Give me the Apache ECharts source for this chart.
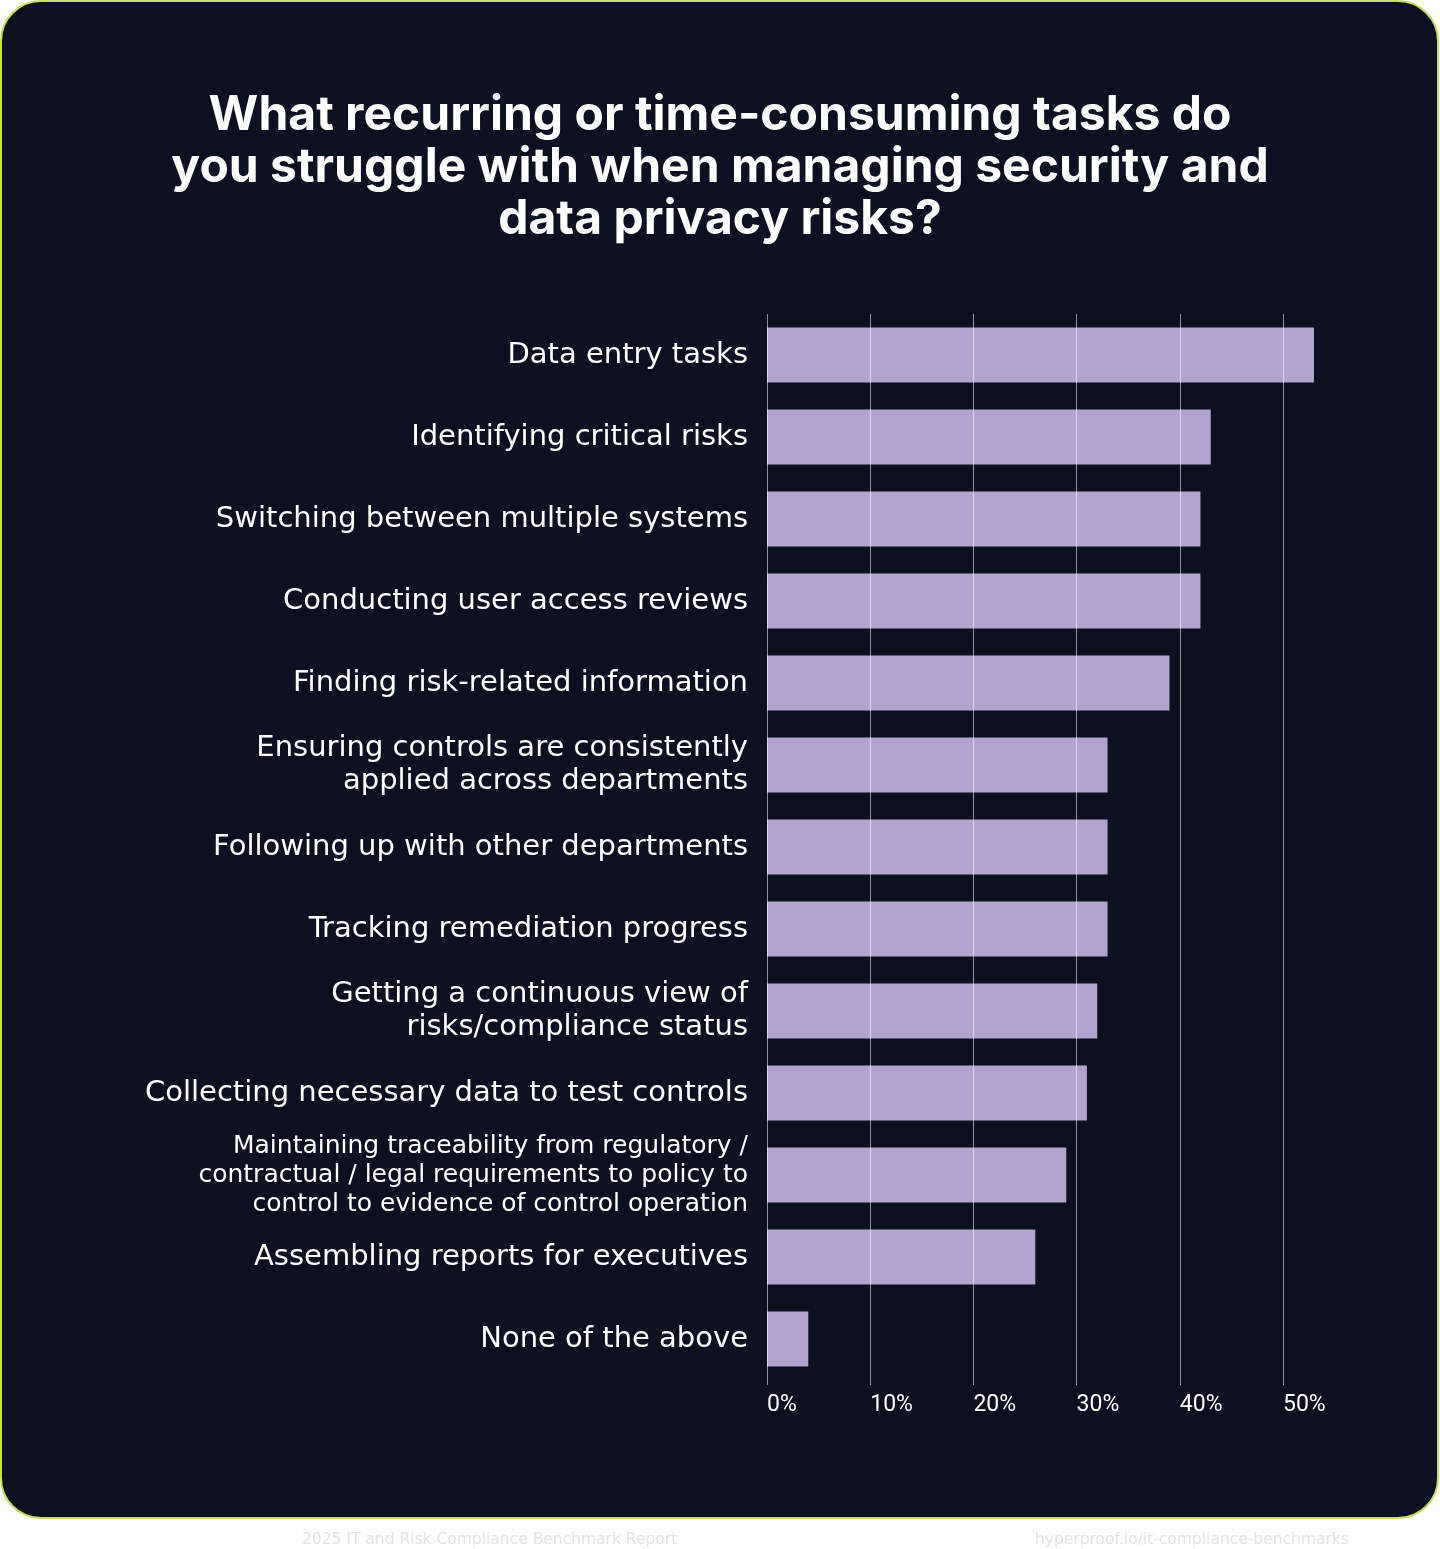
<!DOCTYPE html>
<html>
<head>
<meta charset="utf-8">
<script src="https://cdn.jsdelivr.net/npm/echarts@6/dist/echarts.min.js"></script>
<style>
html,body{margin:0;padding:0;background:#ffffff;}
#chart{width:1440px;height:1549px;}
</style>
</head>
<body>
<div id="chart"></div>
<script>
const categories = [
  'Data entry tasks',
  'Identifying critical risks',
  'Switching between multiple systems',
  'Conducting user access reviews',
  'Finding risk-related information',
  'Ensuring controls are consistently\napplied across departments',
  'Following up with other departments',
  'Tracking remediation progress',
  'Getting a continuous view of\nrisks/compliance status',
  'Collecting necessary data to test controls',
  'Maintaining traceability from regulatory /\ncontractual / legal requirements to policy to\ncontrol to evidence of control operation',
  'Assembling reports for executives',
  'None of the above'
];
const values = [53, 43, 42, 42, 39, 33, 33, 33, 32, 31, 29, 26, 4];
const tickValues = [0, 10, 20, 30, 40, 50];
const titleText = 'What recurring or time-consuming tasks do\nyou struggle with when managing security and\ndata privacy risks?';
const footerLeft = '2025 IT and Risk Compliance Benchmark Report';
const footerRight = 'hyperproof.io/it-compliance-benchmarks';

const chart = echarts.init(document.getElementById('chart'), null, {renderer: 'canvas'});
const catData = categories.map(c => {
  const lines = c.split('\n').length;
  if (lines >= 3) return {value: c, textStyle: {fontSize: 25, lineHeight: 29}};
  return {value: c, textStyle: {fontSize: 29, lineHeight: 33}};
});
chart.setOption({
  backgroundColor: '#ffffff',
  graphic: [
    {type: 'rect', z: -10, shape: {x: 1, y: 1, width: 1437, height: 1517, r: 40},
     style: {fill: '#0d1020', stroke: '#c6de5c', lineWidth: 2}},
    {type: 'text', left: 302, top: 1532, z: 5,
     style: {text: footerLeft, fill: '#e4e4e4', font: '15.5px "DejaVu Sans", sans-serif'}},
    {type: 'text', left: 1035, top: 1532, z: 5,
     style: {text: footerRight, fill: '#e4e4e4', font: '15.5px "DejaVu Sans", sans-serif'}}
  ],
  title: {
    text: titleText,
    left: 'center',
    top: 85,
    textStyle: {color: '#ffffff', fontSize: 48, fontWeight: 700, lineHeight: 52, fontFamily: 'Inter, "Noto Sans", sans-serif'}
  },
  grid: {left: 767, right: 157, top: 314, bottom: 169, containLabel: false},
  xAxis: {
    type: 'value', min: 0, max: 50, interval: 10, z: 3,
    axisLine: {show: false},
    axisTick: {show: true, length: 5, lineStyle: {color: 'rgba(255,255,255,0.55)'}},
    splitLine: {show: true, lineStyle: {color: 'rgba(255,255,255,0.55)', width: 1}},
    axisLabel: {color: '#ffffff', fontSize: 23, fontFamily: 'Roboto, sans-serif', align: 'left', margin: 14,
      formatter: v => tickValues.includes(v) ? v + '%' : ''}
  },
  yAxis: {
    type: 'category', inverse: true, data: catData,
    axisLine: {show: false}, axisTick: {show: false},
    axisLabel: {color: '#ffffff', fontFamily: '"DejaVu Sans", sans-serif', margin: 19, align: 'right'}
  },
  series: [{
    type: 'bar', data: values, barCategoryGap: '33%', clip: false,
    itemStyle: {color: '#b3a3d1'}, z: 2, silent: true
  }],
  animation: false
});
</script>
</body>
</html>
